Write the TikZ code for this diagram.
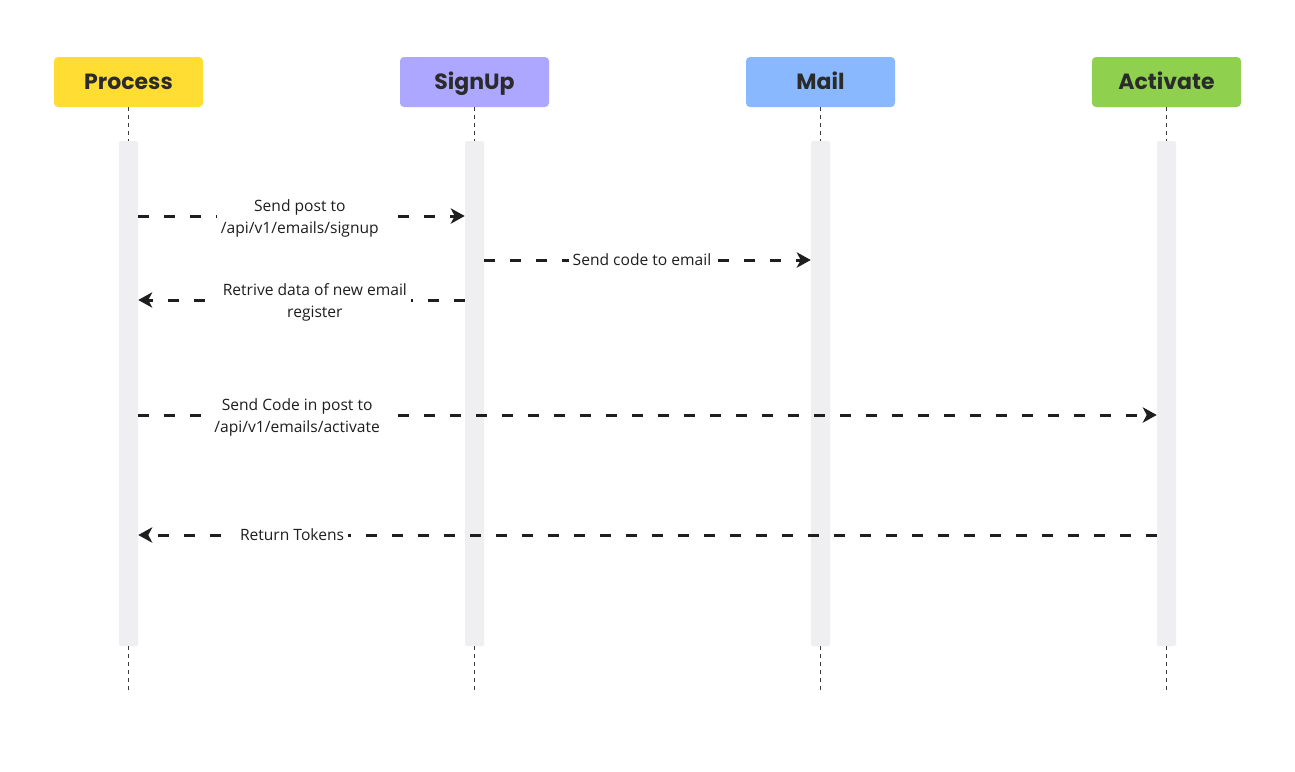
\documentclass[tikz,border=0pt]{standalone}
\usepackage{fontspec}
\setmainfont{Open Sans}
\newfontfamily\headfont{Poppins}
\usetikzlibrary{arrows.meta}

\definecolor{procyellow}{HTML}{FFDD33}
\definecolor{signpurple}{HTML}{ADA7FF}
\definecolor{mailblue}{HTML}{89B8FF}
\definecolor{actgreen}{HTML}{8FD14F}
\definecolor{barfill}{HTML}{EFEFF1}
\definecolor{inkdark}{HTML}{1E1E1E}
\definecolor{headink}{HTML}{2B2B2B}
\definecolor{lifeink}{HTML}{3A3A3A}

\tikzset{
  actor/.style={rounded corners=3pt, minimum width=111.75pt, minimum height=37.5pt,
    font=\headfont\bfseries\fontsize{16.5}{18}\selectfont, text=headink, inner sep=0pt,
    text height=11.6pt, text depth=0pt},
  activation/.style={fill=barfill, rounded corners=1.5pt, minimum width=14.25pt,
    minimum height=378.75pt, inner sep=0pt},
  lifeline/.style={draw=lifeink, line width=0.75pt, dash pattern=on 3pt off 3pt},
  message/.style={draw=inkdark, line width=2.25pt, dash pattern=on 8.25pt off 11.25pt,
    -{Stealth[length=10.5pt, width=11.5pt, inset=3pt]}},
  msglabel/.style={fill=white, inner xsep=3pt, inner ysep=1.5pt, align=center, text=inkdark,
    font=\fontsize{11.7}{16.5}\selectfont},
  twoline/.style={yshift=-1.5pt}
}

\begin{document}
\begin{tikzpicture}[x=0.75pt, y=-0.75pt]
  \useasboundingbox[fill=white] (0,0) rectangle (1295,771);

  % participants
  \node[actor, fill=procyellow] (process)  at (128.5,82) {Process};
  \node[actor, fill=signpurple] (signup)   at (474.5,82) {SignUp};
  \node[actor, fill=mailblue]   (mail)     at (820.5,82) {Mail};
  \node[actor, fill=actgreen]   (activate) at (1166.5,82) {Activate};

  % activation bars
  \node[activation] (pbar) at (128.5,393.5) {};
  \node[activation] (sbar) at (474.5,393.5) {};
  \node[activation] (mbar) at (820.5,393.5) {};
  \node[activation] (abar) at (1166.5,393.5) {};

  % lifeline ends
  \coordinate (pend) at (128.5,693);
  \coordinate (send) at (474.5,693);
  \coordinate (mend) at (820.5,693);
  \coordinate (aend) at (1166.5,693);

  % lifelines
  \foreach \h/\b/\e in {process/pbar/pend, signup/sbar/send, mail/mbar/mend, activate/abar/aend}{
    \draw[lifeline] (\h.south) -- (\b.north);
    \draw[lifeline] (\b.south) -- (\e);
  }

  % messages
  \draw[message] (pbar.east |- 0,216) -- (sbar.west |- 0,216)
    node[msglabel, twoline, pos=0.495] {Send post to\\/api/v1/emails/signup};
  \draw[message] (sbar.east |- 0,260) -- (mbar.west |- 0,260)
    node[msglabel, pos=0.483] {Send code to email};
  \draw[message] (sbar.west |- 0,300) -- (pbar.east |- 0,300)
    node[msglabel, twoline, pos=0.459] {Retrive data of new email\\register};
  \draw[message] (pbar.east |- 0,415) -- (abar.west |- 0,415)
    node[msglabel, twoline, pos=0.156] {Send Code in post to\\/api/v1/emails/activate};
  \draw[message] (abar.west |- 0,535) -- (pbar.east |- 0,535)
    node[msglabel, pos=0.849] {Return Tokens};
\end{tikzpicture}
\end{document}
